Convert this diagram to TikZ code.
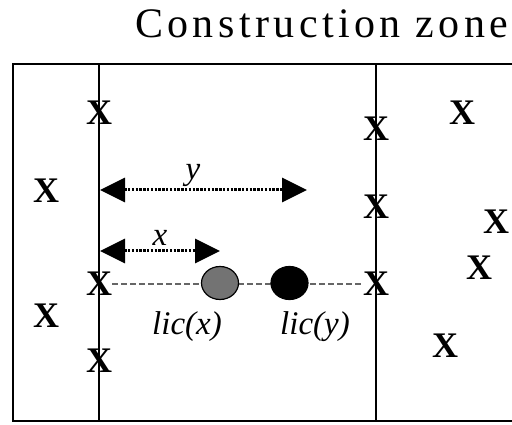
\documentclass[tikz,border=0pt]{standalone}
\usepackage{fontspec}
\setmainfont{Liberation Serif}
\newfontfamily\titlefont[LetterSpace=10.5]{Liberation Serif}
\usetikzlibrary{arrows.meta,shapes.geometric}
\begin{document}
\begin{tikzpicture}[x=1pt,y=-1pt,
  xmark/.style={font=\fontsize{36}{36}\selectfont\bfseries, inner sep=0pt},
  frame/.style={line width=2.2pt},
  dimline/.style={line width=3pt, dash pattern=on 2.4pt off 1.4pt,
    {Triangle[length=25pt,width=24pt]}-{Triangle[length=25pt,width=24pt]}},
  lbl/.style={font=\fontsize{33}{33}\selectfont\itshape, inner sep=0pt},
  dashline/.style={line width=1.3pt, black!60, dash pattern=on 6pt off 3pt},
  blob/.style={ellipse, draw, line width=1.2pt, minimum width=37pt, minimum height=33pt, inner sep=0pt},
]
\useasboundingbox (0,0) rectangle (512,425);
% title
\node[anchor=base west, inner sep=0pt, font=\titlefont\fontsize{42}{42}\selectfont] (title) at (135,38) {Construction zone};
% frame and zone lines
\coordinate (tl) at (13,64);
\coordinate (bl) at (13,421);
\coordinate (tr) at (512,64);
\coordinate (br) at (512,421);
\coordinate (top1) at (99,64);
\coordinate (bot1) at (99,421);
\coordinate (top2) at (376,64);
\coordinate (bot2) at (376,421);
\draw[frame] (tr) -- (tl) -- (bl) -- (br);
\draw[frame] (top1) -- (bot1);
\draw[frame] (top2) -- (bot2);
% X marks on line 1
\node[xmark] (a1) at (99,113) {X};
\node[xmark] (a2) at (99,284) {X};
\node[xmark] (a3) at (99,361) {X};
% X marks left
\node[xmark] (l1) at (46,191) {X};
\node[xmark] (l2) at (46,316) {X};
% X marks on line 2
\node[xmark] (b1) at (376,129) {X};
\node[xmark] (b2) at (376,207) {X};
\node[xmark] (b3) at (376,284) {X};
% X marks right
\node[xmark] (r1) at (462,113) {X};
\node[xmark] (r2) at (496,222) {X};
\node[xmark] (r3) at (479,268) {X};
\node[xmark] (r4) at (445,346) {X};
% dashed line and licences
\draw[dashline] (a2) -- (b3);
\node[blob, fill=black!55] (licx) at (220,283) {};
\node[blob, fill=black] (licy) at (289.5,283) {};
\node[lbl] (licxlab) at (187,327) {lic(x)};
\node[lbl] (licylab) at (315,327) {lic(y)};
% distance arrows
\coordinate (ys) at (100,190);
\coordinate (ye) at (307,190);
\coordinate (xs) at (100,251);
\coordinate (xe) at (220,251);
\draw[dimline] (ys) -- (ye);
\draw[dimline] (xs) -- (xe);
\node[lbl] (ylab) at (193,175) {y};
\node[lbl] (xlab) at (160,238) {x};
\end{tikzpicture}
\end{document}
